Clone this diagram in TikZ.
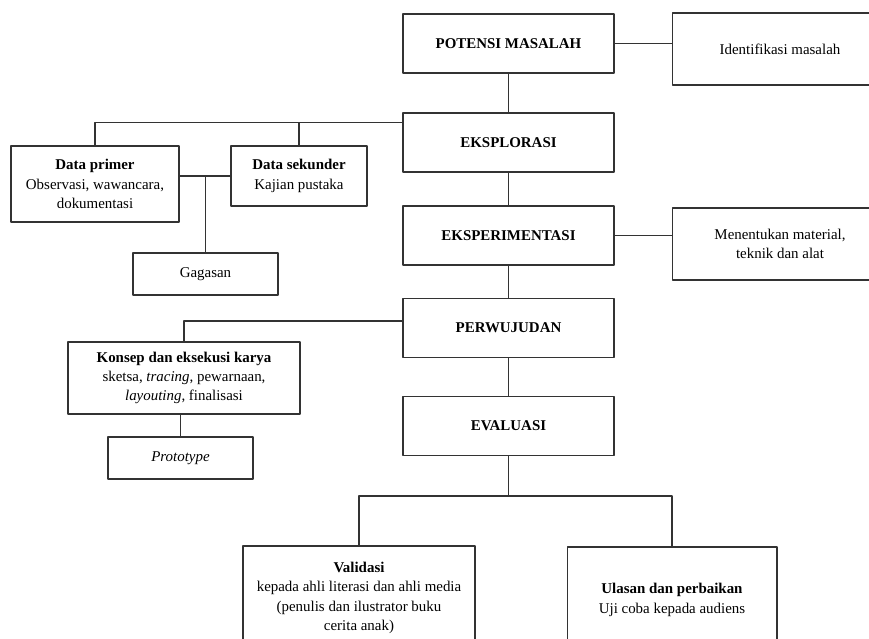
\documentclass[tikz,border=0pt]{standalone}
\usepackage{fontspec}
\setmainfont{Liberation Serif}
\usetikzlibrary{positioning,calc}

\tikzset{box/.style={draw=black!80,line width=.6pt,rectangle,inner sep=0pt,align=center,font=\fontsize{8.5}{11}\selectfont},
mainbox/.style={box,minimum width=4.22cm,minimum height=1.18cm,font=\fontsize{8.5}{11}\selectfont\bfseries},
link/.style={draw=black!80,line width=.6pt}}

\begin{document}
\begin{tikzpicture}[x=.02cm,y=-.02cm,line join=bevel]
\path[use as bounding box,clip] (0,0) rectangle (869,639);
% main column
\node[mainbox] at (508.5,43.5) (s0) {POTENSI MASALAH};
\node[mainbox] at (508.5,142.5) (s1) {EKSPLORASI};
\node[mainbox] at (508.5,235.5) (s2) {EKSPERIMENTASI};
\node[mainbox] at (508.5,328) (s3) {PERWUJUDAN};
\node[mainbox] at (508.5,426) (s4) {EVALUASI};
% right side
\node[box,minimum width=4.32cm,minimum height=1.44cm] at (780,49) (r0) {Identifikasi masalah};
\node[box,minimum width=4.32cm,minimum height=1.44cm] at (780,244) (r1) {Menentukan material,\\teknik dan alat};
% left side
\node[box,minimum width=3.36cm,minimum height=1.52cm] at (95,184) (d1) {\textbf{Data primer}\\Observasi, wawancara,\\dokumentasi};
\node[box,minimum width=2.72cm,minimum height=1.2cm] at (299,176) (d2) {\textbf{Data sekunder}\\Kajian pustaka};
\node[box,minimum width=2.9cm,minimum height=.84cm] at (205.5,274) (g1) {Gagasan};
\node[box,minimum width=4.64cm,minimum height=1.44cm] at (184,378) (k1) {\textbf{Konsep dan eksekusi karya}\\sketsa, \textit{tracing}, pewarnaan,\\\textit{layouting}, finalisasi};
\node[box,minimum width=2.9cm,minimum height=.84cm] at (180.5,458) (k2) {\textit{Prototype}};
% bottom
\node[box,minimum width=4.64cm,minimum height=2.08cm] at (359,598) (v1) {\textbf{Validasi}\\kepada ahli literasi dan ahli media\\(penulis dan ilustrator buku\\cerita anak)};
\node[box,minimum width=4.2cm,minimum height=2.12cm] at (672,600) (v2) {\textbf{Ulasan dan perbaikan}\\Uji coba kepada audiens};

\coordinate (e1) at ($(s1.north west)+(0,10)$);
\coordinate (e3) at ($(s3.north west)+(0,23)$);
\coordinate (e4) at ($(s4.south)+(0,40)$);

\draw[link] (s0) -- (s1);
\draw[link] (s1) -- (s2);
\draw[link] (s2) -- (s3);
\draw[link] (s3) -- (s4);
\draw[link] (s0.east) -- (s0.east -| r0.west);
\draw[link] (s2.east) -- (s2.east -| r1.west);
\draw[link] (e1) -| (d1.north);
\draw[link] (d2.north) -- (d2.north |- e1);
\draw[link] (d2.west) -- (d2.west -| d1.east);
\draw[link] (g1.north) -- (g1.north |- d2.west);
\draw[link] (e3) -| (k1.north);
\draw[link] (k2.north) -- (k2.north |- k1.south);
\draw[link] (s4) -- (e4);
\draw[link] (v1.north) |- (e4) -| (v2.north);
\end{tikzpicture}
\end{document}
